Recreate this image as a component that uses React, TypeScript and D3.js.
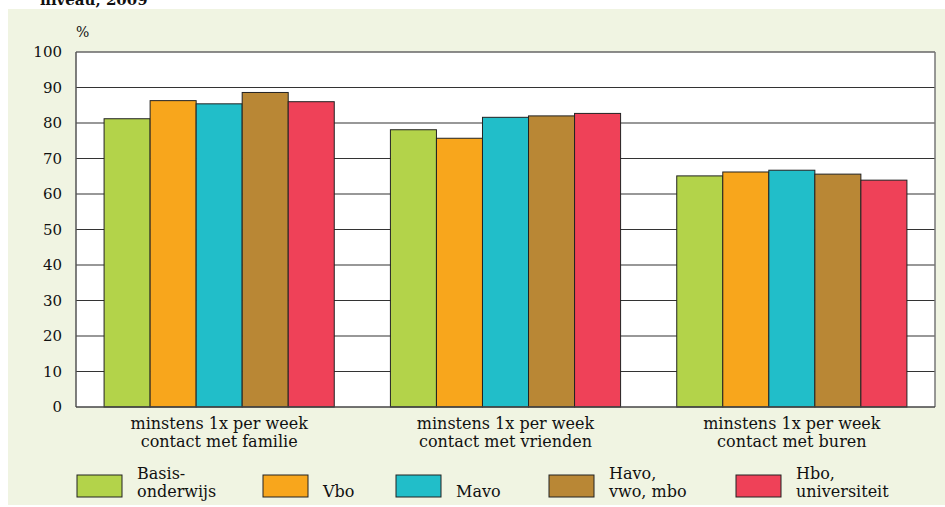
import React from 'react';
import * as d3 from 'd3';

// chart values
const categories = [
  ['minstens 1x per week', 'contact met familie'],
  ['minstens 1x per week', 'contact met vrienden'],
  ['minstens 1x per week', 'contact met buren'],
];
const seriesNames = [
  ['Basis-', 'onderwijs'],
  ['', 'Vbo'],
  ['', 'Mavo'],
  ['Havo,', 'vwo, mbo'],
  ['Hbo,', 'universiteit'],
];
const basisonderwijs = [81.2, 78.1, 65.1];
const vbo = [86.3, 75.7, 66.2];
const mavo = [85.4, 81.6, 66.7];
const havoVwoMbo = [88.6, 82.0, 65.6];
const hboUniversiteit = [86.0, 82.7, 63.9];
const yTicks = [0, 10, 20, 30, 40, 50, 60, 70, 80, 90, 100];

const seriesValues = [basisonderwijs, vbo, mavo, havoVwoMbo, hboUniversiteit];
const colors = ['#b3d34a', '#f8a61c', '#21bec9', '#b98735', '#ef4158'];

const W = 945;
const H = 507;
const plot = { left: 76, right: 935, top: 52, bottom: 407 };
const font = '"DejaVu Serif", serif';
const legendX = [77, 263, 396, 549, 736];

export default function App() {
  const x0 = d3.scaleBand<number>()
    .domain(categories.map((_, i) => i))
    .range([plot.left, plot.right]);
  const x1 = d3.scaleBand<number>()
    .domain(seriesNames.map((_, i) => i))
    .range([0, x0.bandwidth()])
    .paddingOuter(0.61);
  const y = d3.scaleLinear().domain([0, 100]).range([plot.bottom, plot.top]);

  return (
    <svg width={W} height={H} style={{ position: 'absolute', left: 0, top: 0 }}
      fontFamily={font}>
      <rect x={8} y={9} width={W - 8} height={H - 11} fill="#f0f4e2" />
      <text x={40} y={5} fontSize={15} fontWeight="bold" fill="#111">niveau, 2009</text>

      <rect x={plot.left} y={plot.top} width={plot.right - plot.left}
        height={plot.bottom - plot.top} fill="#fff" />

      {yTicks.map(t => (
        <g key={t}>
          {t > 0 && t < 100 && (
            <line x1={plot.left} x2={plot.right} y1={y(t)} y2={y(t)}
              stroke="#333" strokeWidth={1.2} />
          )}
          <text x={62} y={y(t) + 5} textAnchor="end" fontSize={15} fill="#111">{t}</text>
        </g>
      ))}
      <text x={76} y={37} fontSize={14} fill="#111">%</text>

      {seriesValues.map((vals, s) => vals.map((v, c) => (
        <rect key={`${s}-${c}`}
          x={x0(c)! + x1(s)!} y={y(v)} width={x1.bandwidth()} height={y(0) - y(v)}
          fill={colors[s]} stroke="#222" strokeWidth={1} />
      )))}

      {/* frame */}
      <line x1={plot.left} x2={plot.right} y1={plot.top} y2={plot.top} stroke="#666" strokeWidth={1.5} />
      <line x1={plot.right} x2={plot.right} y1={plot.top} y2={plot.bottom} stroke="#777" strokeWidth={1.5} />
      <line x1={plot.left} x2={plot.left} y1={plot.top} y2={plot.bottom} stroke="#555" strokeWidth={1.5} />
      <line x1={plot.left} x2={plot.right} y1={plot.bottom} y2={plot.bottom} stroke="#444" strokeWidth={1.5} />

      {categories.map((lines, c) => (
        <text key={c} x={x0(c)! + x0.bandwidth() / 2} textAnchor="middle" fontSize={16} fill="#111">
          <tspan x={x0(c)! + x0.bandwidth() / 2} y={429}>{lines[0]}</tspan>
          <tspan x={x0(c)! + x0.bandwidth() / 2} y={447}>{lines[1]}</tspan>
        </text>
      ))}

      {seriesNames.map((lines, s) => (
        <g key={s} transform={`translate(${legendX[s]},0)`}>
          <rect x={0} y={475} width={45} height={22} fill={colors[s]} stroke="#222" strokeWidth={1} />
          <text fontSize={16} fill="#111">
            <tspan x={60} y={479}>{lines[0]}</tspan>
            <tspan x={60} y={497}>{lines[1]}</tspan>
          </text>
        </g>
      ))}
    </svg>
  );
}
